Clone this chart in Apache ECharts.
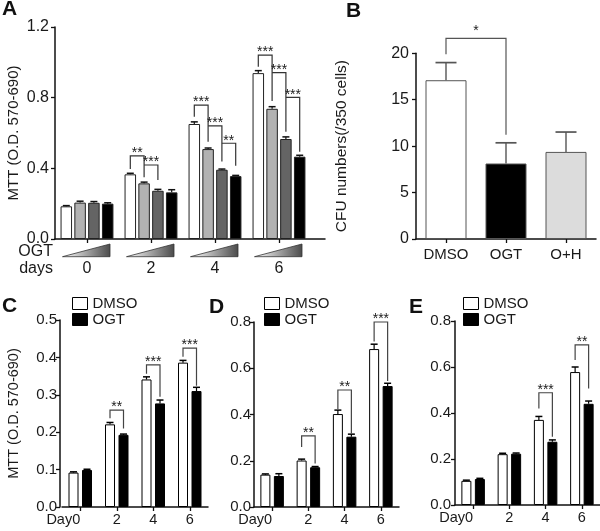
<!DOCTYPE html>
<html><head><meta charset="utf-8">
<script src="https://cdn.jsdelivr.net/npm/echarts@6/dist/echarts.min.js"></script>
<style>html,body{margin:0;padding:0;background:#fff}#c{width:600px;height:531px}</style>
</head><body><div id="c"></div><script>
const FONT = '"Liberation Sans", Arial, Helvetica, sans-serif';
const TXT = '#1a1a1a';

// ---------- Panel A data ----------
const aDays = ['0', '2', '4', '6'];
const aDose1 = [0.185, 0.366, 0.651, 0.939];
const aDose2 = [0.206, 0.315, 0.509, 0.737];
const aDose3 = [0.205, 0.273, 0.392, 0.566];
const aDose4 = [0.200, 0.264, 0.356, 0.466];
const aErr1 = [0.004, 0.006, 0.012, 0.014];
const aErr2 = [0.008, 0.007, 0.006, 0.012];
const aErr3 = [0.007, 0.008, 0.004, 0.012];
const aErr4 = [0.005, 0.015, 0.004, 0.008];
const aYTicks = [0.0, 0.4, 0.8, 1.2];
// [category, bar i, bar j, top, left leg bottom, right leg bottom]
const aSig = [
  [1, 0, 1, 0.471, 0.396, 0.349], [1, 1, 2, 0.419, 0.419, 0.334],
  [2, 0, 1, 0.758, 0.692, 0.551], [2, 1, 2, 0.640, 0.640, 0.438], [2, 2, 3, 0.542, 0.542, 0.415],
  [3, 0, 1, 1.041, 0.975, 0.781], [3, 1, 2, 0.942, 0.942, 0.607], [3, 2, 3, 0.802, 0.802, 0.494]
];
const aSigText = ['**', '***', '***', '***', '**', '***', '***', '***'];

// ---------- Panel B data ----------
const bGroups = ['DMSO', 'OGT', 'O+H'];
const bValues = [17.1, 8.13, 9.38];
const bErrors = [1.9, 2.23, 2.14];
const bYTicks = [0, 5, 10, 15, 20];
const bSig = [[0, 1, 21.6, 19.9, 11.24]];
const bSigText = ['*'];

// ---------- Panels C, D, E data ----------
const cdeDays = ['Day0', '2', '4', '6'];
const cDmso = [0.092, 0.221, 0.341, 0.386];
const cDmsoErr = [0.002, 0.005, 0.007, 0.006];
const cOgt = [0.099, 0.193, 0.277, 0.310];
const cOgtErr = [0.002, 0.002, 0.009, 0.010];
const cSig = [[1, 0, 1, 0.259, 0.237, 0.210], [2, 0, 1, 0.380, 0.356, 0.295], [3, 0, 1, 0.425, 0.402, 0.324]];
const cSigText = ['**', '***', '***'];

const dDmso = [0.140, 0.201, 0.402, 0.683];
const dDmsoErr = [0.003, 0.006, 0.017, 0.021];
const dOgt = [0.134, 0.172, 0.304, 0.523];
const dOgtErr = [0.010, 0.003, 0.011, 0.012];
const dSig = [[1, 0, 1, 0.308, 0.260, 0.188], [2, 0, 1, 0.506, 0.424, 0.318], [3, 0, 1, 0.800, 0.716, 0.545]];
const dSigText = ['**', '**', '***'];

const eDmso = [0.105, 0.221, 0.370, 0.578];
const eDmsoErr = [0.003, 0.004, 0.015, 0.022];
const eOgt = [0.113, 0.223, 0.275, 0.440];
const eOgtErr = [0.003, 0.003, 0.008, 0.012];
const eSig = [[2, 0, 1, 0.488, 0.420, 0.297], [3, 0, 1, 0.696, 0.630, 0.507]];
const eSigText = ['***', '**'];

// ---------- helpers ----------
function errData(vals, errs, k) { return vals.map((v, i) => [i, v, errs[i], k]); }
function errSeries(xi, yi, vals, errs, k, n, bw, gap, cap, color, lw) {
  return {
    type: 'custom', xAxisIndex: xi, yAxisIndex: yi, z: 5, clip: false, silent: true,
    data: errData(vals, errs, k),
    renderItem: function (params, api) {
      const cat = api.value(0), v = api.value(1), e = api.value(2), kk = api.value(3);
      const p = api.coord([cat, v]);
      const x = p[0] + (kk - (n - 1) / 2) * (bw + gap);
      const top = api.coord([cat, v + e])[1];
      return { type: 'group', children: [
        { type: 'line', shape: { x1: x, y1: p[1], x2: x, y2: top }, style: { stroke: color, lineWidth: lw } },
        { type: 'line', shape: { x1: x - cap / 2, y1: top, x2: x + cap / 2, y2: top }, style: { stroke: color, lineWidth: lw + 0.3 } }
      ] };
    }
  };
}
function sigSeries(xi, yi, rows, texts, n, bw, gap, color, fs) {
  return {
    type: 'custom', xAxisIndex: xi, yAxisIndex: yi, z: 6, clip: false, silent: true,
    data: rows,
    renderItem: function (params, api) {
      const cat = api.value(0), i = api.value(1), j = api.value(2);
      const top = api.value(3), lb = api.value(4), rb = api.value(5);
      const c = api.coord([cat, top]);
      const pitch = bw + gap;
      const xi_ = c[0] + (i - (n - 1) / 2) * pitch;
      const xj_ = c[0] + (j - (n - 1) / 2) * pitch;
      const yl = api.coord([cat, lb])[1], yr = api.coord([cat, rb])[1];
      return { type: 'group', children: [
        { type: 'polyline', shape: { points: [[xi_, yl], [xi_, c[1]], [xj_, c[1]], [xj_, yr]] },
          style: { stroke: color, fill: null, lineWidth: 1.2 } },
        { type: 'text', style: { x: (xi_ + xj_) / 2, y: c[1] - 2.5, text: texts[params.dataIndex],
          align: 'center', verticalAlign: 'middle', fontSize: fs, fontFamily: FONT, fill: TXT } }
      ] };
    }
  };
}
function yAx(gi, min, max, interval, digits, fs, margin, extra) {
  return Object.assign({
    gridIndex: gi, type: 'value', min: min, max: max, interval: interval,
    axisLine: { show: true, lineStyle: { color: '#111', width: 1.5 } },
    axisTick: { show: true, length: 4, lineStyle: { color: '#111', width: 1.3 } },
    axisLabel: { fontSize: fs, fontFamily: FONT, color: TXT, margin: margin,
      formatter: v => digits >= 0 ? Number(v).toFixed(digits) : String(v) },
    splitLine: { show: false }, nameMoveOverlap: false
  }, extra || {});
}
function xCat(gi, data, fs, margin, showLine) {
  return {
    gridIndex: gi, type: 'category', data: data,
    axisLine: { show: showLine !== false, lineStyle: { color: '#111', width: 1.5 } },
    axisTick: { show: true, alignWithLabel: true, length: 4, lineStyle: { color: '#111', width: 1.3 } },
    axisLabel: { interval: 0, fontSize: fs, fontFamily: FONT, color: TXT, margin: margin },
    splitLine: { show: false }
  };
}
function bar(xi, yi, name, vals, color, bw, gapPct, border) {
  return {
    type: 'bar', name: name, xAxisIndex: xi, yAxisIndex: yi, data: vals, barWidth: bw, barGap: gapPct,
    itemStyle: { color: color, borderColor: border, borderWidth: 1 }, silent: true, animation: false
  };
}

// ---------- layout constants ----------
const A_BW = 11.5, A_GAP = 2.3;
const S_BW = 10, S_GAP = 3.5;
const aColors = ['#ffffff', '#b2b2b2', '#646464', '#000000'];
const aDoses = [aDose1, aDose2, aDose3, aDose4];
const aErrs = [aErr1, aErr2, aErr3, aErr4];

const series = [];
// Panel A
aDoses.forEach((d, k) => series.push(bar(0, 0, 'dose' + (k + 1), d, aColors[k], A_BW, (A_GAP / A_BW * 100) + '%', '#222')));
aDoses.forEach((d, k) => series.push(errSeries(0, 0, d, aErrs[k], k, 4, A_BW, A_GAP, 7, '#111', 1.2)));
series.push(sigSeries(0, 0, aSig, aSigText, 4, A_BW, A_GAP, '#333', 14));
// wedges under panel A groups
series.push({
  type: 'custom', xAxisIndex: 0, yAxisIndex: 0, clip: false, silent: true, z: 4,
  data: aDays.map((d, i) => [i, 0]),
  renderItem: function (params, api) {
    const p = api.coord([api.value(0), 0]);
    const y0 = p[1];
    return { type: 'polygon', shape: { points: [[p[0] - 24.5, y0 + 17.7], [p[0] + 23, y0 + 5], [p[0] + 23, y0 + 17.7]] },
      style: { fill: new echarts.graphic.LinearGradient(0, 0, 1, 0, [{ offset: 0, color: '#ffffff' }, { offset: 1, color: '#4a4a4a' }]),
        stroke: '#333', lineWidth: 0.8 } };
  }
});
// Panel B
series.push({
  type: 'bar', name: 'CFU', xAxisIndex: 1, yAxisIndex: 1, barWidth: 41, silent: true,
  data: bValues.map((v, i) => ({ value: v, itemStyle: { color: ['#ffffff', '#000000', '#dcdcdc'][i] } })),
  itemStyle: { borderColor: '#555', borderWidth: 1 }
});
series.push(errSeries(1, 1, bValues, bErrors, 0, 1, 41, 0, 21, '#555', 1.4));
series.push(sigSeries(1, 1, bSig.map(r => [r[0], 0, 0, r[2], r[3], r[4], r[1]]), bSigText, 1, 0, 0, '#555', 14));
// Panels C, D, E
[[2, cDmso, cDmsoErr, cOgt, cOgtErr, cSig, cSigText],
 [3, dDmso, dDmsoErr, dOgt, dOgtErr, dSig, dSigText],
 [4, eDmso, eDmsoErr, eOgt, eOgtErr, eSig, eSigText]].forEach(p => {
  const gi = p[0];
  series.push(bar(gi, gi, 'DMSO', p[1], '#ffffff', S_BW, (S_GAP / S_BW * 100) + '%', '#000'));
  series.push(bar(gi, gi, 'OGT', p[3], '#000000', S_BW, (S_GAP / S_BW * 100) + '%', '#000'));
  series.push(errSeries(gi, gi, p[1], p[2], 0, 2, S_BW, S_GAP, 7, '#000', 1.2));
  series.push(errSeries(gi, gi, p[3], p[4], 1, 2, S_BW, S_GAP, 7, '#000', 1.2));
  series.push(sigSeries(gi, gi, p[5], p[6], 2, S_BW, S_GAP, '#444', 14));
});

// B bracket uses the x position of the category itself: remap renderer
series[series.length - 16 + 0]; // no-op placeholder

const legendBase = (left) => ({
  left: left, top: 296, orient: 'vertical', data: ['DMSO', 'OGT'], icon: 'rect',
  itemWidth: 15, itemHeight: 12, itemGap: 1, padding: 0, selectedMode: false,
  itemStyle: { borderColor: '#000', borderWidth: 1 },
  textStyle: { fontSize: 15, fontFamily: FONT, color: TXT }
});

const dayItems = cdeDays.map((d, i) => i === 0 ? { value: d, textStyle: { align: 'right' } } : d);

const option = {
  animation: false,
  backgroundColor: '#ffffff',
  textStyle: { fontFamily: FONT },
  grid: [
    { left: 55, top: 27, width: 256, height: 212 },
    { left: 416, top: 53.3, width: 180, height: 185.7 },
    { left: 62, top: 320, width: 146, height: 187 },
    { left: 254, top: 322, width: 145, height: 185 },
    { left: 455, top: 321, width: 145, height: 184 },
    { left: 55, top: 27, width: 270, height: 212 }
  ],
  xAxis: [
    xCat(0, aDays, 16, 22, false),
    xCat(1, bGroups, 15, 8),
    xCat(2, dayItems, 14.5, 5),
    xCat(3, dayItems, 14.5, 5),
    xCat(4, dayItems, 14.5, 5),
    { gridIndex: 5, type: 'value', min: 0, max: 1, axisLine: { show: true, lineStyle: { color: '#111', width: 1.5 } },
      axisTick: { show: false }, axisLabel: { show: false }, splitLine: { show: false } }
  ],
  yAxis: [
    yAx(0, 0, 1.2, 0.4, 1, 16, 6, { name: 'MTT (O.D. 570-690)', nameLocation: 'middle', nameGap: 34,
      nameTextStyle: { fontSize: 15, fontFamily: FONT, color: TXT } }),
    yAx(1, 0, 20, 5, -1, 16, 7, { name: 'CFU numbers(/350 cells)', nameLocation: 'middle', nameGap: 66,
      nameTextStyle: { fontSize: 15.5, fontFamily: FONT, color: TXT } }),
    yAx(2, 0, 0.5, 0.1, 1, 15, 3, { offset: 2, name: 'MTT (O.D. 570-690)', nameLocation: 'middle', nameGap: 39,
      nameTextStyle: { fontSize: 14.5, fontFamily: FONT, color: TXT } }),
    yAx(3, 0, 0.8, 0.2, 1, 15, 3),
    yAx(4, 0, 0.8, 0.2, 1, 15, 4),
    { gridIndex: 5, type: 'value', show: false }
  ],
  legend: [legendBase(72), legendBase(264), legendBase(463)],
  graphic: [
    { type: 'text', left: 2, top: -1, style: { text: 'A', fontSize: 21, fontWeight: 'bold', fontFamily: FONT, fill: '#111' } },
    { type: 'text', left: 346, top: 1, style: { text: 'B', fontSize: 21, fontWeight: 'bold', fontFamily: FONT, fill: '#111' } },
    { type: 'text', left: 2, top: 296, style: { text: 'C', fontSize: 21, fontWeight: 'bold', fontFamily: FONT, fill: '#111' } },
    { type: 'text', left: 209, top: 297, style: { text: 'D', fontSize: 21, fontWeight: 'bold', fontFamily: FONT, fill: '#111' } },
    { type: 'text', left: 409, top: 297, style: { text: 'E', fontSize: 21, fontWeight: 'bold', fontFamily: FONT, fill: '#111' } },
    { type: 'text', right: 547, top: 244, style: { text: 'OGT', fontSize: 16, fontFamily: FONT, fill: TXT } },
    { type: 'text', right: 547, top: 261, style: { text: 'days', fontSize: 16, fontFamily: FONT, fill: TXT } }
  ],
  series: series
};

// Panel B bracket: bars are single per category, so legs sit at category centers
const bIdx = series.findIndex(s => s.xAxisIndex === 1 && s.type === 'custom' && s.z === 6);
series[bIdx] = {
  type: 'custom', xAxisIndex: 1, yAxisIndex: 1, z: 6, clip: false, silent: true,
  data: bSig,
  renderItem: function (params, api) {
    const i = api.value(0), j = api.value(1);
    const pi = api.coord([i, api.value(2)]), pj = api.coord([j, api.value(2)]);
    const yl = api.coord([i, api.value(3)])[1], yr = api.coord([j, api.value(4)])[1];
    return { type: 'group', children: [
      { type: 'polyline', shape: { points: [[pi[0], yl], [pi[0], pi[1]], [pj[0], pj[1]], [pj[0], yr]] },
        style: { stroke: '#555', fill: null, lineWidth: 1.2 } },
      { type: 'text', style: { x: (pi[0] + pj[0]) / 2, y: pi[1] - 7, text: bSigText[params.dataIndex],
        align: 'center', verticalAlign: 'middle', fontSize: 14, fontFamily: FONT, fill: TXT } }
    ] };
  }
};

const chart = echarts.init(document.getElementById('c'), null, { renderer: 'canvas' });
chart.setOption(option);
</script></body></html>
